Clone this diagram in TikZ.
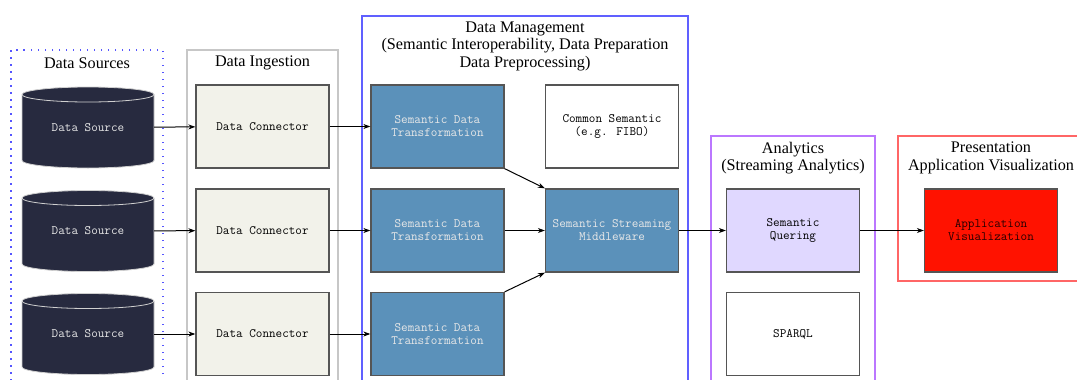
\documentclass[tikz,border=0pt]{standalone}
\usepackage{fontspec}
\setmainfont{Liberation Serif}
\usetikzlibrary{arrows.meta}
\definecolor{srcfill}{HTML}{272A3F}
\definecolor{srcline}{HTML}{D0D0D0}
\definecolor{confill}{HTML}{F2F2EA}
\definecolor{boxline}{HTML}{555555}
\definecolor{steel}{HTML}{5B91BA}
\definecolor{steeltext}{HTML}{E8E8E8}
\definecolor{lavender}{HTML}{E0D8FF}
\definecolor{appred}{HTML}{FF1200}
\definecolor{srcblue}{HTML}{5555FF}
\definecolor{mgmtblue}{HTML}{6060FF}
\definecolor{anpurple}{HTML}{BB77FF}
\definecolor{presred}{HTML}{FF6666}
\tikzset{
  clustertitle/.style={font=\fontsize{16.2}{17.5}\selectfont, align=center, inner sep=0},
  box/.style={draw=boxline, line width=1.3pt, minimum width=133pt, minimum height=83pt,
    font=\ttfamily\fontsize{12.8}{13}\selectfont, align=center, inner sep=0},
  srcbox/.style={minimum width=132pt, minimum height=81pt, text=steeltext,
    font=\ttfamily\fontsize{12.8}{13}\selectfont, inner sep=0},
  flow/.style={draw=black, line width=1pt, -{Stealth[length=7pt,width=5pt]}}
}

\begin{document}
\begin{tikzpicture}[x=1pt,y=-1pt]
			%%%%% START %%%%%
			\useasboundingbox (0,0) rectangle (1077,380);
			\clip (0,0) rectangle (1077,380);
			
			% clusters
			\draw[srcblue, line width=1.5pt, dash pattern=on 1.5pt off 5.5pt] (11,50) rectangle (163,395);
			\draw[black!22, line width=1.2pt] (187,50) rectangle (338,395);
			\draw[mgmtblue, line width=1.3pt] (362,16) rectangle (688,395);
			\draw[anpurple, line width=1.3pt] (711,136) rectangle (875,395);
			\draw[presred, line width=1.3pt] (898,136) rectangle (1084,281);
			
			\node[clustertitle] (srctitle) at (87,63) {Data Sources};
			\node[clustertitle] (ingtitle) at (262.5,63) {Data Ingestion};
			\node[clustertitle] (mgmttitle) at (525,46) {Data Management\\(Semantic Interoperability, Data Preparation\\Data Preprocessing)};
			\node[clustertitle] (antitle) at (793,158) {Analytics\\(Streaming Analytics)};
			\node[clustertitle] (prestitle) at (991,158) {Presentation\\Application Visualization};
			
			% sources (cylinders)
			\foreach \s/\y in {src1/127.5, src2/231, src3/334} {
				\draw[fill=srcfill, draw=srcline, line width=0.8pt] (22,\y-33) -- (22,\y+33) arc (180:360:66pt and 7.5pt)
					-- (154,\y-33) arc (0:180:66pt and 7.5pt) -- cycle;
				\draw[srcline, line width=0.8pt] (22,\y-33) arc (180:360:66pt and 7.5pt);
				\node[srcbox] (\s) at (88,\y) {Data Source};
			}
			
			% ingestion
			\node[box, fill=confill] (con1) at (262.5,126.5) {Data Connector};
			\node[box, fill=confill] (con2) at (262.5,230.5) {Data Connector};
			\node[box, fill=confill] (con3) at (262.5,334) {Data Connector};
			
			% management
			\node[box, fill=steel, text=steeltext] (tr1) at (437.5,126.5) {Semantic Data\\Transformation};
			\node[box, fill=steel, text=steeltext] (tr2) at (437.5,230.5) {Semantic Data\\Transformation};
			\node[box, fill=steel, text=steeltext] (tr3) at (437.5,334) {Semantic Data\\Transformation};
			\node[box, fill=white] (sem) at (612,126.5) {Common Semantic\\(e.g. FIBO)};
			\node[box, fill=steel, text=steeltext] (mw) at (612,230.5) {Semantic Streaming\\Middleware};
			
			% analytics
			\node[box, fill=lavender] (qry) at (793,230.5) {Semantic\\Quering};
			\node[box, fill=white] (sparql) at (793,334) {SPARQL};
			
			% presentation
			\node[box, fill=appred, text=black!85!red] (app) at (991,230.5) {Application\\Visualization};
			
			% flows
			\draw[flow] (src1) -- (con1);
			\draw[flow] (src2) -- (con2);
			\draw[flow] (src3) -- (con3);
			\draw[flow] (con1) -- (tr1);
			\draw[flow] (con2) -- (tr2);
			\draw[flow] (con3) -- (tr3);
			\draw[flow] (tr1.south east) -- (mw.north west);
			\draw[flow] (tr2) -- (mw);
			\draw[flow] (tr3.north east) -- (mw.south west);
			\draw[flow] (mw) -- (qry);
			\draw[flow] (qry) -- (app);
			
			%%%%% END %%%%%
\end{tikzpicture}
\end{document}
